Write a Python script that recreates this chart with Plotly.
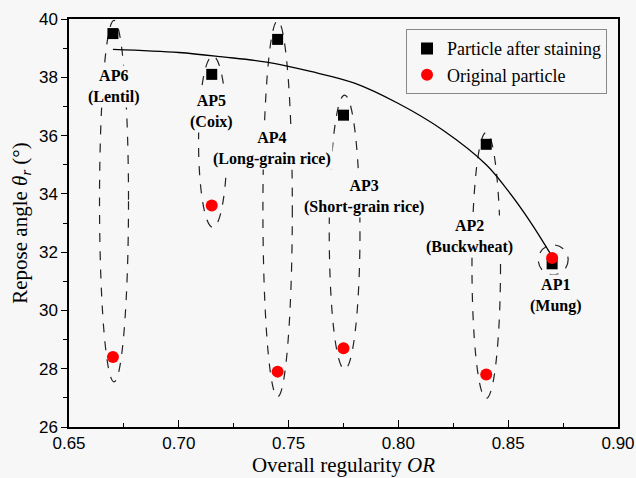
import plotly.graph_objects as go

# ---- data ----
labels = ["AP6<br>(Lentil)", "AP5<br>(Coix)", "AP4<br>(Long-grain rice)",
          "AP3<br>(Short-grain rice)", "AP2<br>(Buckwheat)", "AP1<br>(Mung)"]
OR_vals = [0.670, 0.715, 0.745, 0.775, 0.840, 0.870]
stained = [39.5, 38.1, 39.3, 36.7, 35.7, 31.6]
original = [28.4, 33.6, 27.9, 28.7, 27.8, 31.8]

fit_x = [0.67, 0.70, 0.72, 0.74, 0.76, 0.78, 0.80, 0.82, 0.84, 0.85, 0.86, 0.87]
fit_y = [38.96, 38.85, 38.70, 38.52, 38.20, 37.80, 37.10, 36.20, 35.00, 34.10, 33.05, 31.85]

# ellipse outlines (x-centre, half-width, bottom, top)
ell_cx = [0.6705, 0.7155, 0.7450, 0.7755, 0.8400, 0.8705]
ell_hw = [0.0066, 0.0065, 0.0067, 0.0070, 0.0065, 0.0068]
ell_lo = [27.55, 32.85, 27.04, 27.98, 26.98, 31.22]
ell_hi = [39.95, 38.73, 39.94, 37.39, 36.11, 32.25]

# label anchor positions
lab_x = [0.6707, 0.7150, 0.7424, 0.7843, 0.8326, 0.8718]
lab_y = [37.67, 36.81, 35.55, 33.91, 32.55, 30.50]

BG = "#f7f7f7"
SERIF = "Times New Roman"
SANS = "Arial"

fig = go.Figure()

fig.add_trace(go.Scatter(x=fit_x, y=fit_y, mode="lines",
                         line=dict(color="black", width=1.3, shape="spline", smoothing=1.0),
                         showlegend=False, hoverinfo="skip"))
fig.add_trace(go.Scatter(x=OR_vals, y=stained, mode="markers", name="Particle after staining",
                         marker=dict(symbol="square", color="black", size=11)))
fig.add_trace(go.Scatter(x=OR_vals, y=original, mode="markers", name="Original particle",
                         marker=dict(symbol="circle", color="#ff0000", size=12)))

for cx, hw, lo, hi in zip(ell_cx, ell_hw, ell_lo, ell_hi):
    fig.add_shape(type="circle", xref="x", yref="y", x0=cx - hw, x1=cx + hw, y0=lo, y1=hi,
                  line=dict(color="#222222", width=1.2, dash="dash"), layer="below")

# draw lower labels first so upper ones sit on top where boxes touch
for i in [5, 4, 3, 2, 1, 0]:
    fig.add_annotation(x=lab_x[i], y=lab_y[i], xref="x", yref="y", text="<b>" + labels[i] + "</b>",
                       showarrow=False, font=dict(family=SERIF, size=16, color="black"),
                       bgcolor=BG, borderpad=1)

fig.update_layout(
    width=636, height=478,
    margin=dict(l=69, r=18, t=19, b=51),
    paper_bgcolor=BG, plot_bgcolor=BG,
    font=dict(family=SERIF, color="black"),
    legend=dict(x=0.98, y=0.975, xanchor="right", yanchor="top",
                bgcolor=BG, bordercolor="#888888", borderwidth=1,
                font=dict(family=SERIF, size=18, color="black"),
                itemsizing="constant", tracegroupgap=0),
    xaxis=dict(range=[0.65, 0.90], dtick=0.05, tickformat=".2f", automargin=False,
               ticks="inside", ticklen=7, tickwidth=1.2, tickcolor="black",
               minor=dict(ticks="inside", ticklen=4, dtick=0.025, tickcolor="black", tickwidth=1.2),
               showline=True, linecolor="black", linewidth=1.5, mirror=True,
               showgrid=False, zeroline=False,
               tickfont=dict(family=SANS, size=17, color="black"),
               title=dict(text="Overall regularity <i>OR</i>", standoff=4,
                          font=dict(family=SERIF, size=21, color="black"))),
    yaxis=dict(range=[26, 40], dtick=2, automargin=False,
               ticks="outside", ticklen=6, tickwidth=1.2, tickcolor="black",
               minor=dict(ticks="outside", ticklen=4, dtick=1, tickcolor="black", tickwidth=1.2),
               showline=True, linecolor="black", linewidth=1.5, mirror=True,
               showgrid=False, zeroline=False,
               tickfont=dict(family=SANS, size=17, color="black"),
               title=dict(text="Repose angle <i>θ<sub>r</sub></i> (°)", standoff=6,
                          font=dict(family=SERIF, size=21, color="black"))),
)

fig.write_html("out.html")
